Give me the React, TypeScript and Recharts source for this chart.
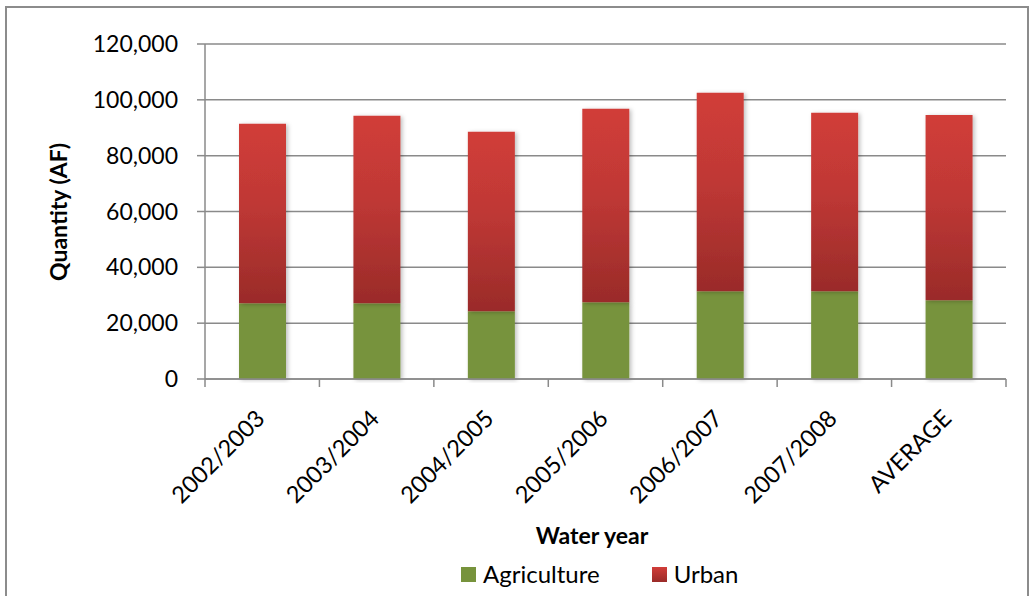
import { BarChart, Bar, XAxis, YAxis, CartesianGrid } from "recharts";

const years = ["2002/2003", "2003/2004", "2004/2005", "2005/2006", "2006/2007", "2007/2008", "AVERAGE"];
const agriculture = [27100, 27100, 24300, 27500, 31400, 31400, 28200];
const urban = [64300, 67200, 64300, 69300, 71100, 64000, 66400];
const yTicks = [0, 20000, 40000, 60000, 80000, 100000, 120000];
const seriesNames = ["Agriculture", "Urban"];

const data = years.map((year, i) => ({
  year,
  Agriculture: agriculture[i],
  Urban: urban[i],
}));

const FONT = "Lato, 'Open Sans', sans-serif";
const GRID = "#8a8a8a";

function YearTick(props: any) {
  const { x, y, payload, index, width, visibleTicksCount } = props;
  const step = width / visibleTicksCount;
  const left = x - step / 2;
  return (
    <g>
      <line x1={left} y1={y} x2={left} y2={y + 8} stroke={GRID} strokeWidth={1.5} />
      {index === visibleTicksCount - 1 && (
        <line x1={x + step / 2} y1={y} x2={x + step / 2} y2={y + 8} stroke={GRID} strokeWidth={1.5} />
      )}
      <text
        x={x + 4}
        y={y + 41}
        textAnchor="end"
        fontSize={23.5}
        fontFamily={FONT}
        fill="#000"
        transform={`rotate(-45 ${x + 4} ${y + 41})`}
      >
        {payload.value}
      </text>
    </g>
  );
}

function LegendBox() {
  return (
    <div
      style={{
        position: "absolute",
        left: 461,
        top: 560,
        display: "flex",
        gap: 52,
        fontFamily: FONT,
        fontSize: 24,
        lineHeight: "28px",
      }}
    >
      {seriesNames.map((name) => (
        <div key={name} style={{ display: "flex", alignItems: "center", gap: 7 }}>
          <svg width={15} height={15}>
            <defs>
              <linearGradient id="legUrban" x1="0" y1="0" x2="0" y2="1">
                <stop offset="0%" stopColor="#D13D39" />
                <stop offset="100%" stopColor="#9A2B29" />
              </linearGradient>
            </defs>
            <rect width={15} height={15} fill={name === "Urban" ? "url(#legUrban)" : "#77933C"} />
          </svg>
          <span style={{ color: "#000" }}>{name}</span>
        </div>
      ))}
    </div>
  );
}

export default function App() {
  return (
    <div style={{ position: "absolute", left: 0, top: 0, width: 1032, height: 596, background: "#fff", overflow: "hidden" }}>
      <div
        style={{
          position: "absolute",
          left: 5,
          top: 6,
          width: 1024,
          height: 640,
          border: "2px solid #8c8c8c",
          boxSizing: "border-box",
        }}
      />
      <BarChart
        width={1032}
        height={596}
        data={data}
        margin={{ top: 44, right: 26, left: 115, bottom: 157 }}
        style={{ position: "absolute", left: 0, top: 0 }}
      >
        <defs>
          <linearGradient id="urbanFill" x1="0" y1="0" x2="0" y2="1">
            <stop offset="0%" stopColor="#D13D39" />
            <stop offset="45%" stopColor="#BF3835" />
            <stop offset="100%" stopColor="#9A2B29" />
          </linearGradient>
          <filter id="barShadow" x="-20%" y="-5%" width="140%" height="110%">
            <feDropShadow dx="2" dy="1" stdDeviation="2" floodColor="#000" floodOpacity="0.25" />
          </filter>
        </defs>
        <CartesianGrid vertical={false} stroke={GRID} strokeWidth={1.5} />
        <XAxis
          dataKey="year"
          height={60}
          stroke={GRID}
          strokeWidth={1.5}
          tickLine={false}
          tickSize={0}
          tickMargin={0}
          interval={0}
          tick={<YearTick />}
        />
        <YAxis
          width={90}
          domain={[0, 120000]}
          ticks={yTicks}
          interval={0}
          stroke={GRID}
          strokeWidth={1.5}
          tickSize={8}
          tickMargin={19}
          tick={{ fill: "#000", fontSize: 23, fontFamily: FONT }}
          tickFormatter={(v: number) => v.toLocaleString("en-US")}
        />
        <Bar dataKey="Agriculture" stackId="a" fill="#77933C" barSize={47} isAnimationActive={false} filter="url(#barShadow)" />
        <Bar dataKey="Urban" stackId="a" fill="url(#urbanFill)" barSize={47} isAnimationActive={false} filter="url(#barShadow)" />
      </BarChart>
      <LegendBox />
      <div
        style={{
          position: "absolute",
          left: 58,
          top: 212,
          transform: "translate(-50%, -50%) rotate(-90deg)",
          fontFamily: FONT,
          fontWeight: 700,
          fontSize: 23,
          whiteSpace: "nowrap",
          color: "#000",
        }}
      >
        Quantity (AF)
      </div>
      <div
        style={{
          position: "absolute",
          left: 592,
          top: 535,
          transform: "translate(-50%, -50%)",
          fontFamily: FONT,
          fontWeight: 700,
          fontSize: 23,
          whiteSpace: "nowrap",
          color: "#000",
        }}
      >
        Water year
      </div>
    </div>
  );
}
